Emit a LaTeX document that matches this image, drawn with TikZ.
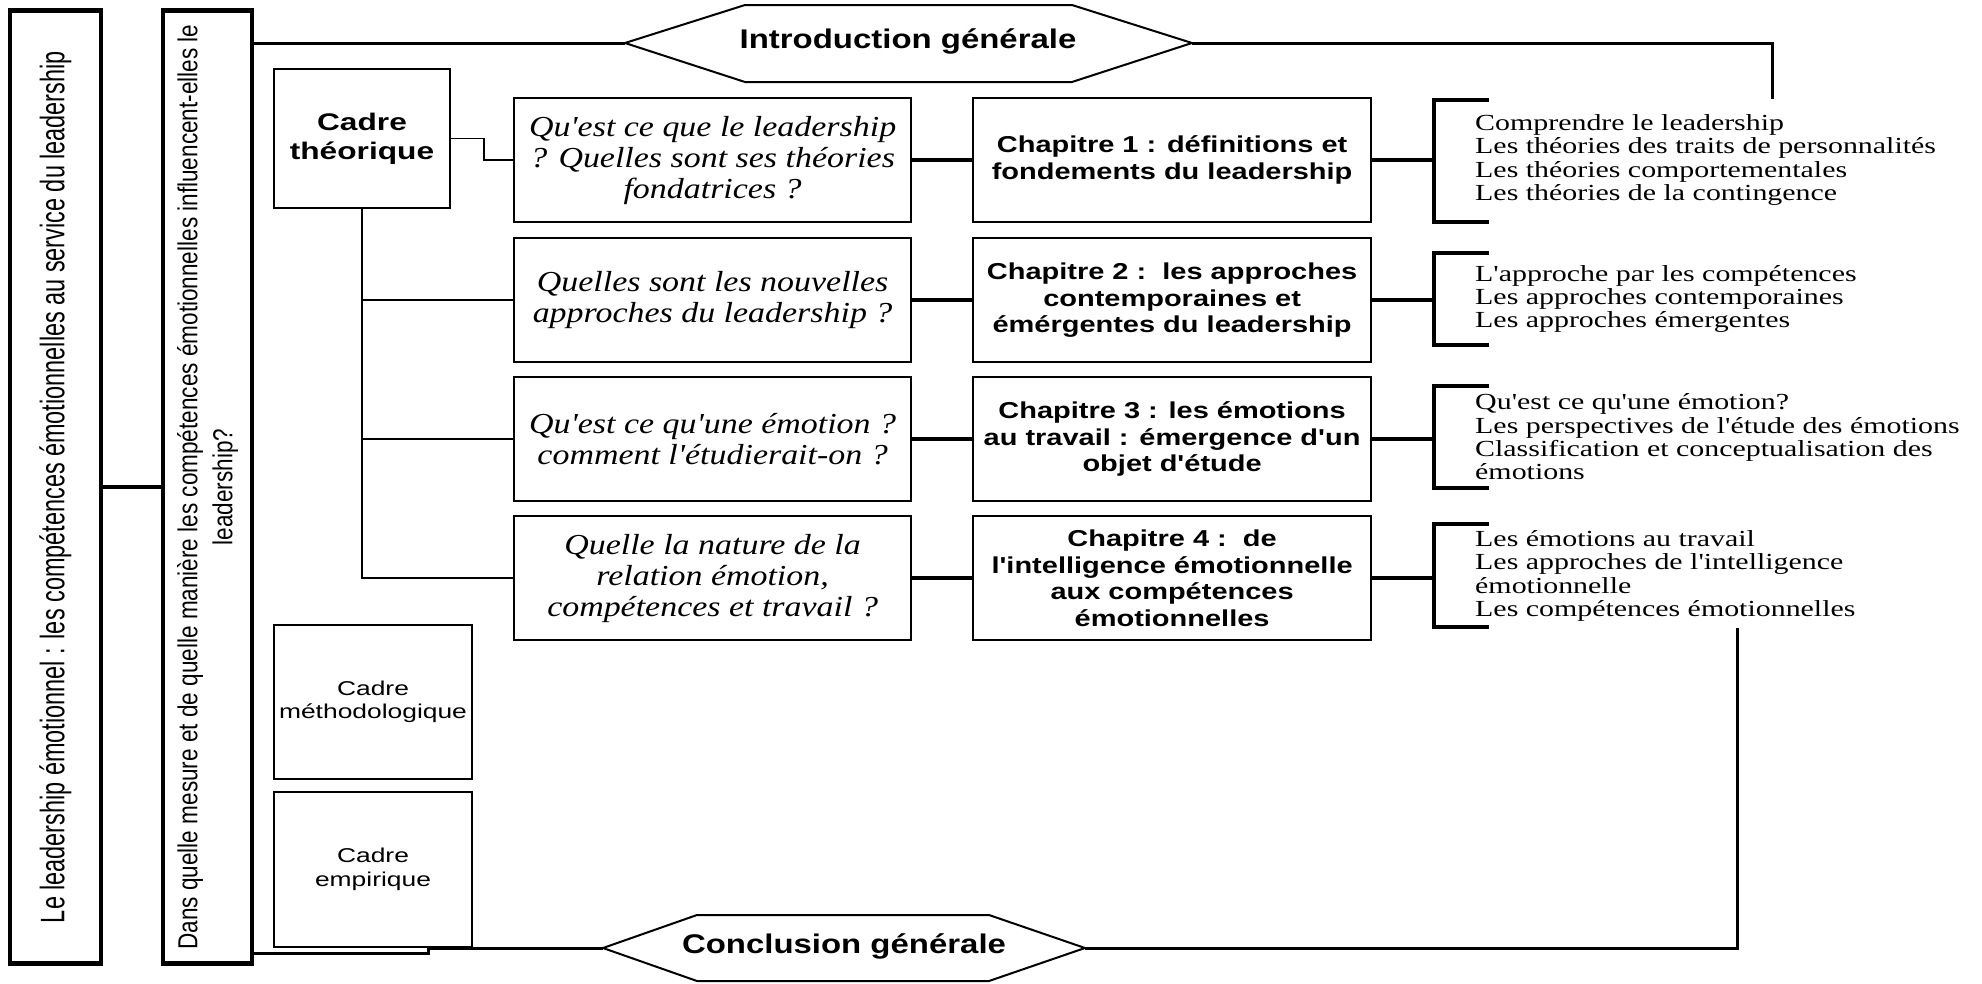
\documentclass[tikz,border=0pt]{standalone}
\usepackage{fontspec}
\setmainfont{Liberation Serif}
\newfontfamily\sfw[FakeStretch=1.32]{Liberation Sans}
\newfontfamily\chfont[FakeStretch=1.26]{Liberation Sans}
\newfontfamily\hxfont[FakeStretch=1.22]{Liberation Sans}
\newfontfamily\qfont[FakeStretch=1.17]{Liberation Serif}
\newfontfamily\lfont[FakeStretch=1.3]{Liberation Serif}
\newfontfamily\rfonta[FakeStretch=0.69]{Liberation Sans}
\newfontfamily\rfontb[FakeStretch=0.82]{Liberation Sans}
\newcommand\fsz[2]{\fontsize{#1}{#2}\selectfont}
\tikzset{
  bigbox/.style={draw, line width=4.5pt, inner sep=0pt, align=center, rotate=90},
  cbox/.style={draw, line width=2pt, inner sep=0pt, align=center, anchor=north west},
  qbox/.style={draw, line width=2.2pt, minimum width=397pt, minimum height=124pt, inner sep=0pt,
    align=center, anchor=north west, font=\qfont\itshape\fsz{29}{31}},
  chbox/.style={draw, line width=2.2pt, minimum width=398pt, minimum height=124pt, inner sep=0pt,
    align=center, anchor=north west, font=\chfont\bfseries\fsz{23}{26.5}},
  lst/.style={anchor=west, align=left, inner sep=0pt, font=\lfont\fsz{23}{23.4}},
  hextext/.style={inner sep=0pt, font=\hxfont\bfseries\fsz{27}{30}},
  thinline/.style={line width=1.8pt},
  thickline/.style={line width=4pt},
  frameline/.style={line width=3pt},
  brk/.style={line width=4pt},
  hex/.style={line width=2pt, line join=miter}
}
\begin{document}
\begin{tikzpicture}[x=1pt,y=-1pt]
\useasboundingbox (0,0) rectangle (1982,983);
\fill[white] (0,0) rectangle (1982,983);

% left vertical boxes
\node[bigbox, minimum width=953pt, minimum height=91pt, font=\rfonta\fsz{34}{38}] (A) at (55.5,487) {Le leadership émotionnel : les compétences émotionnelles au service du leadership};
\node[bigbox, minimum width=953pt, minimum height=89pt, font=\rfontb\fsz{27.5}{35}] (B) at (207.5,487) {Dans quelle mesure et de quelle manière les compétences émotionnelles influencent-elles le\\leadership?};
\draw[thickline] (A.south) -- (B.north);

% hexagons
\coordinate (introW) at (625,43);
\coordinate (introE) at (1192,43);
\node[hextext] (intro) at (908,41) {Introduction générale};
\draw[hex] (introW) -- (745,5) -- (1072,5) -- (introE) -- (1072,82) -- (745,82) -- cycle;

\coordinate (conclW) at (603,948);
\coordinate (conclE) at (1085,948);
\node[hextext] (concl) at (844,946) {Conclusion générale};
\draw[hex] (conclW) -- (697,915) -- (989,915) -- (conclE) -- (989,981) -- (697,981) -- cycle;

% frame lines
\coordinate (tr) at (1772,99);
\coordinate (br) at (1737,628);
\draw[frameline] (B.south |- introW) -- (introW);
\draw[frameline] (introE) -- (tr |- introE) -- (tr);
\coordinate (Bbot) at (253,953);
\draw[frameline] (Bbot) -- (428,953) -- (428,948) -- (conclW);
\draw[frameline] (conclE) -- (br |- conclE) -- (br);

% cadre boxes
\node[cbox, minimum width=176pt, minimum height=139pt, font=\sfw\bfseries\fsz{24}{29}] (ct) at (273,68) {Cadre\\théorique};
\node[cbox, minimum width=198pt, minimum height=154pt, font=\sfw\fsz{20}{23}] (cm) at (273,624) {Cadre\\méthodologique};
\node[cbox, minimum width=198pt, minimum height=155pt, font=\sfw\fsz{20}{24}] (ce) at (273,791) {Cadre\\empirique};

% question boxes
\node[qbox] (q1) at (513,97) {Qu'est ce que le leadership\\? Quelles sont ses théories\\fondatrices ?};
\node[qbox] (q2) at (513,237) {Quelles sont les nouvelles\\approches du leadership ?};
\node[qbox] (q3) at (513,376) {Qu'est ce qu'une émotion ?\\comment l'étudierait-on ?};
\node[qbox] (q4) at (513,515) {Quelle la nature de la\\relation émotion,\\compétences et travail ?};

% chapter boxes
\node[chbox] (c1) at (972,97) {Chapitre 1 : définitions et\\fondements du leadership};
\node[chbox] (c2) at (972,237) {Chapitre 2 :\ \ les approches\\contemporaines et\\émérgentes du leadership};
\node[chbox] (c3) at (972,376) {Chapitre 3 : les émotions\\au travail : émergence d'un\\objet d'étude};
\node[chbox] (c4) at (972,515) {Chapitre 4 :\ \ de\\l'intelligence émotionnelle\\aux compétences\\émotionnelles};

% cadre connectors
\draw[thinline] (ct.east) -- ++(33,0) |- (q1.west);
\draw[thinline] (ct.south) |- (q4.west);
\draw[thinline] (ct.south |- q2.west) -- (q2.west);
\draw[thinline] (ct.south |- q3.west) -- (q3.west);

% question -> chapter
\foreach \i in {1,2,3,4} {\draw[thickline] (q\i.east) -- (c\i.west);}

% brackets
\coordinate (k1) at (1434,159);
\coordinate (k2) at (1434,299);
\coordinate (k3) at (1434,438);
\coordinate (k4) at (1434,577);
\draw[brk] (1489,100) -- (1434,100) -- (1434,222) -- (1489,222);
\draw[brk] (1489,253) -- (1434,253) -- (1434,345) -- (1489,345);
\draw[brk] (1489,386) -- (1434,386) -- (1434,488) -- (1489,488);
\draw[brk] (1489,524) -- (1434,524) -- (1434,627) -- (1489,627);
\foreach \i in {1,2,3,4} {\draw[thickline] (c\i.east) -- (c\i.east -| k\i);}

\node[lst] (l1) at (1475,160) {Comprendre le leadership\\Les théories des traits de personnalités\\Les théories comportementales\\Les théories de la contingence};
\node[lst] (l2) at (1475,299) {L'approche par les compétences\\Les approches contemporaines\\Les approches émergentes};
\node[lst] (l3) at (1475,437) {Qu'est ce qu'une émotion?\\Les perspectives de l'étude des émotions\\Classification et conceptualisation des\\émotions};
\node[lst] (l4) at (1475,576) {Les émotions au travail\\Les approches de l'intelligence\\émotionnelle\\Les compétences émotionnelles};
\end{tikzpicture}
\end{document}
